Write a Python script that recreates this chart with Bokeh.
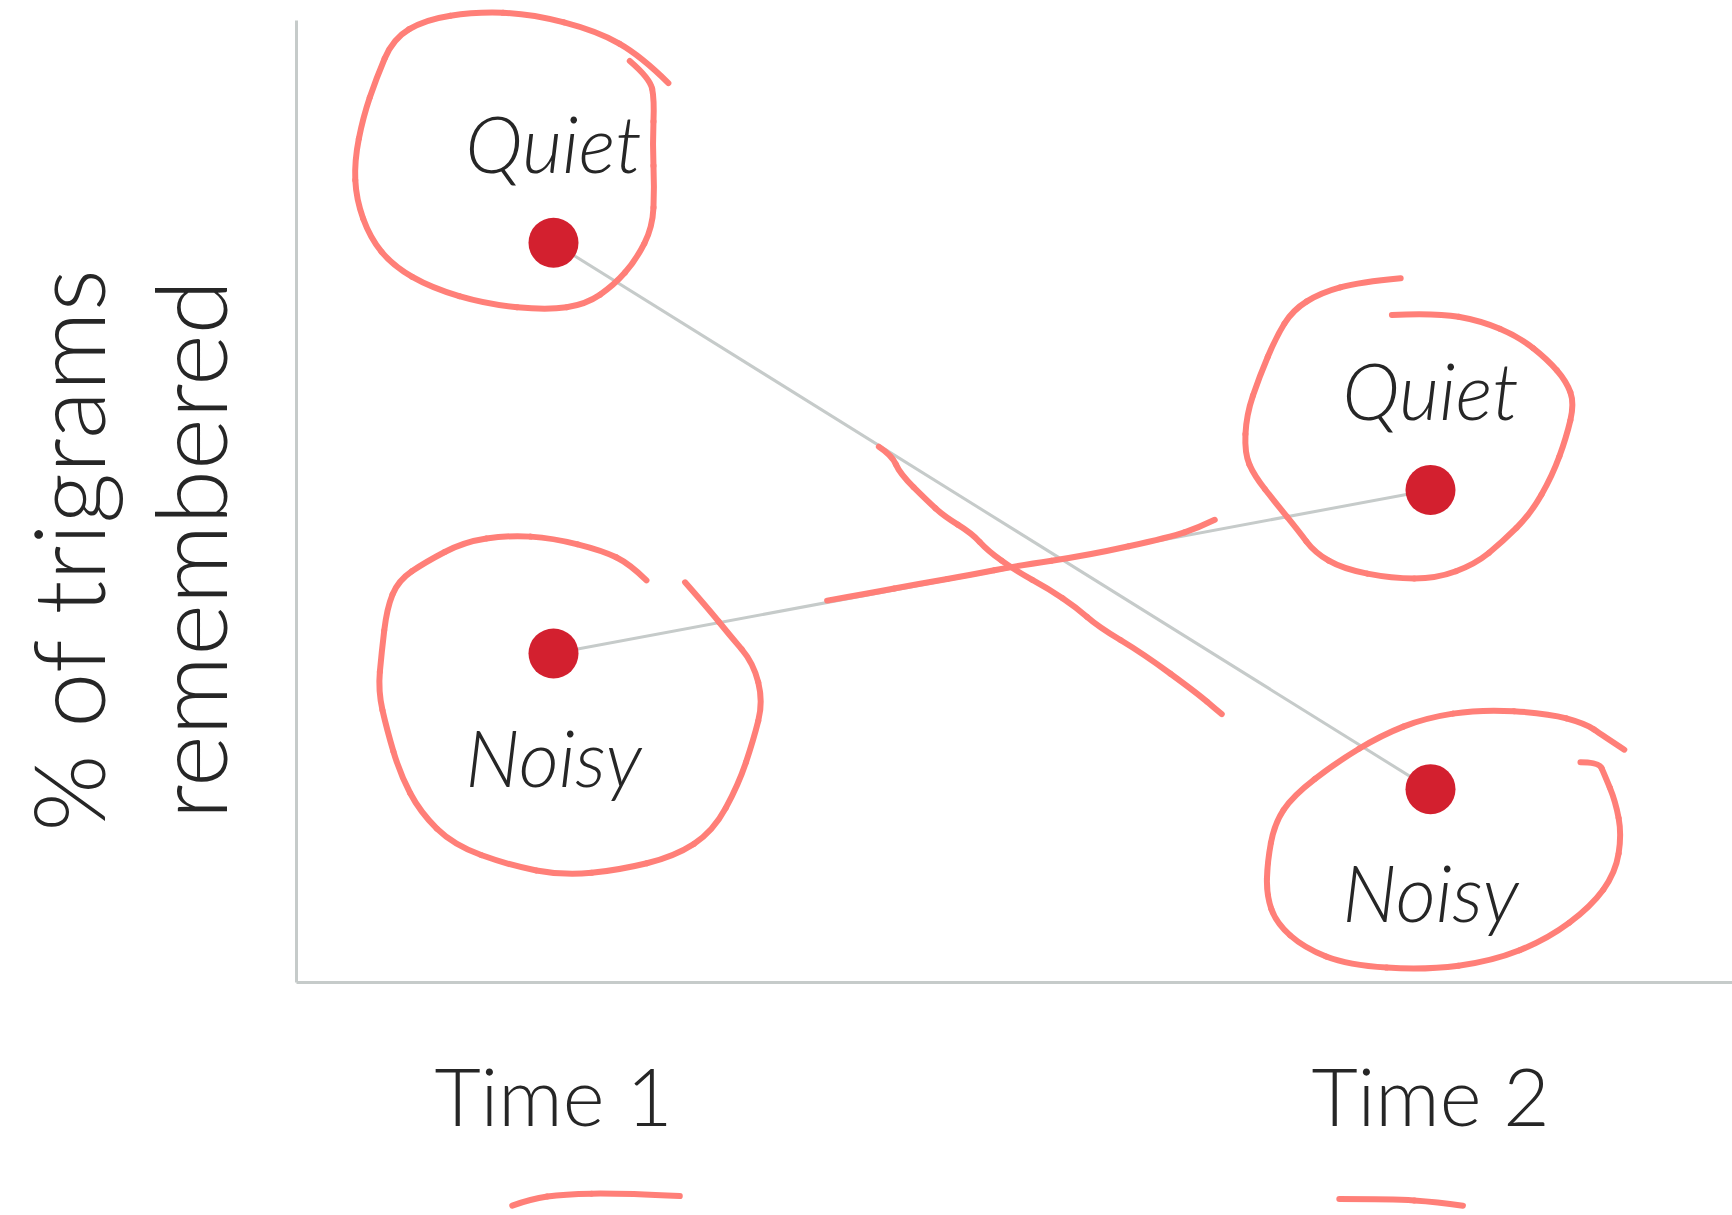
import math
from bokeh.plotting import figure
from bokeh.models import Range1d, FixedTicker
from bokeh.embed import file_html
from bokeh.resources import INLINE
from bokeh.core.properties import value

# ---------------- data ----------------
times = ["Time 1", "Time 2"]
time_pos = [1, 2]
quiet = [76.9, 51.2]
noisy = [34.2, 20.1]
quiet_label = "Quiet"
noisy_label = "Noisy"
y_title_lines = ["% of trigrams", "remembered"]

# connector lines as drawn in the original (crossed pairing)
connector_a = [quiet[0], noisy[1]]
connector_b = [noisy[0], quiet[1]]

# hand-drawn annotation strokes (data units)
circle_quiet_1_x = [1.131, 1.100, 1.050, 0.974, 0.911, 0.854, 0.817, 0.798, 0.783, 0.773, 0.775, 0.791,
                    0.817, 0.861, 0.924, 0.993, 1.037, 1.069, 1.094, 1.113, 1.115, 1.113, 1.115, 1.110, 1.087]
circle_quiet_1_y = [93.5, 96.3, 98.9, 100.7, 100.9, 100.1, 98.1, 94.0, 90.0, 85.4, 81.4, 77.4,
                    74.5, 72.2, 70.5, 69.9, 70.5, 72.5, 75.1, 78.5, 82.6, 87.2, 91.8, 94.0, 95.8]

circle_noisy_1_x = [1.106, 1.087, 1.056, 0.999, 0.949, 0.898, 0.854, 0.823, 0.810, 0.804, 0.800, 0.810,
                    0.825, 0.848, 0.886, 0.949, 1.012, 1.075, 1.138, 1.182, 1.211, 1.228, 1.239, 1.228,
                    1.201, 1.176, 1.150]
circle_noisy_1_y = [41.8, 43.5, 44.9, 46.2, 46.5, 45.8, 43.7, 41.8, 38.9, 34.3, 30.3, 26.3,
                    21.7, 17.7, 14.3, 12.2, 11.1, 11.7, 13.1, 15.7, 20.6, 25.2, 29.2, 33.2,
                    36.1, 38.9, 41.6]

circle_quiet_2_x = [1.966, 1.919, 1.875, 1.843, 1.824, 1.805, 1.790, 1.788, 1.799, 1.824, 1.849, 1.868,
                    1.900, 1.956, 2.007, 2.051, 2.082, 2.114, 2.139, 2.155, 2.164, 2.155, 2.133, 2.101,
                    2.057, 2.007, 1.956]
circle_quiet_2_y = [73.2, 72.8, 71.7, 69.9, 67.1, 63.0, 59.0, 55.0, 52.7, 49.8, 47.0, 44.7,
                    43.0, 42.0, 42.0, 43.5, 45.8, 48.7, 52.7, 56.7, 60.2, 62.5, 64.8, 67.1,
                    68.8, 69.6, 69.4]

circle_noisy_2_x = [2.221, 2.196, 2.177, 2.133, 2.057, 1.994, 1.944, 1.893, 1.843, 1.822, 1.814, 1.813,
                    1.824, 1.856, 1.906, 1.994, 2.070, 2.133, 2.183, 2.211, 2.218, 2.211, 2.198, 2.192,
                    2.171]
circle_noisy_2_y = [24.2, 25.7, 26.9, 28.0, 28.4, 27.5, 25.7, 22.9, 19.4, 16.5, 12.5, 9.1,
                    6.2, 3.6, 1.8, 1.3, 2.2, 4.5, 7.9, 11.4, 15.4, 18.8, 21.7, 22.9,
                    22.9]

strike_a_x = [1.371, 1.386, 1.395, 1.426, 1.445, 1.477, 1.495, 1.527, 1.565, 1.596, 1.621, 1.672,
              1.735, 1.755, 1.762]
strike_a_y = [55.7, 54.8, 52.9, 50.1, 48.5, 46.7, 44.9, 42.8, 40.9, 39.0, 37.0, 34.2,
              30.0, 28.4, 27.9]

strike_b_x = [1.312, 1.357, 1.420, 1.478, 1.527, 1.609, 1.703, 1.736, 1.754]
strike_b_y = [39.7, 40.4, 41.5, 42.4, 43.3, 44.4, 46.3, 47.3, 48.1]

underline_1_x = [0.953, 0.974, 1.012, 1.075, 1.144]
underline_1_y = [-23.2, -22.5, -22.0, -21.9, -22.2]

underline_2_x = [1.896, 1.956, 2.007, 2.037]
underline_2_y = [-22.5, -22.5, -22.8, -23.2]

strokes = [
    (strike_a_x, strike_a_y), (strike_b_x, strike_b_y),
    (circle_quiet_1_x, circle_quiet_1_y), (circle_noisy_1_x, circle_noisy_1_y),
    (circle_quiet_2_x, circle_quiet_2_y), (circle_noisy_2_x, circle_noisy_2_y),
    (underline_1_x, underline_1_y), (underline_2_x, underline_2_y),
]

# ---------------- styles ----------------
FONT = "Lato Light"
TEXT = "#262626"
GREY = "#c6cbca"
DOT = "#d3202f"
PEN = "#ff7f78"

X0, X1 = 0.36944, 2.34436
Y0, Y1 = -24.22, 102.08
AXIS_X = 0.70696

p = figure(width=1732, height=1215,
           x_range=Range1d(X0, X1), y_range=Range1d(Y0, Y1),
           output_backend="svg", toolbar_location=None,
           min_border_left=0, min_border_right=0, min_border_top=0, min_border_bottom=0,
           outline_line_color=None, background_fill_color="white", border_fill_color="white")
p.xgrid.visible = False
p.ygrid.visible = False

# x axis drawn at y = 0, y axis drawn at the left edge of the data area
xa = p.xaxis[0]
xa.fixed_location = 0
xa.bounds = (AXIS_X, X1)
xa.ticker = FixedTicker(ticks=time_pos)
xa.major_label_overrides = {t: lab for t, lab in zip(time_pos, times)}
xa.axis_line_color = GREY
xa.axis_line_width = 3
xa.major_tick_line_color = None
xa.minor_tick_line_color = None
xa.major_label_text_font = FONT
xa.major_label_text_font_size = "80px"
xa.major_label_text_color = TEXT
xa.major_label_standoff = 58

ya = p.yaxis[0]
ya.fixed_location = AXIS_X
ya.bounds = (0, 100)
ya.ticker = FixedTicker(ticks=[])
ya.axis_line_color = GREY
ya.axis_line_width = 3
ya.major_tick_line_color = None
ya.minor_tick_line_color = None
ya.major_label_text_font_size = "0px"

# connectors
p.line(time_pos, connector_a, line_color=GREY, line_width=3)
p.line(time_pos, connector_b, line_color=GREY, line_width=3)

# points
p.scatter(time_pos, quiet, marker="circle", size=50, fill_color=DOT, line_color=None)
p.scatter(time_pos, noisy, marker="circle", size=50, fill_color=DOT, line_color=None)

# point labels
p.text(time_pos, quiet, text=[quiet_label] * len(time_pos), text_font=value(FONT),
       text_font_style="italic", text_font_size="78px", text_color=TEXT,
       text_align="center", text_baseline="alphabetic", y_offset=-100)
p.text(time_pos, noisy, text=[noisy_label] * len(time_pos), text_font=value(FONT),
       text_font_style="italic", text_font_size="78px", text_color=TEXT,
       text_align="center", text_baseline="alphabetic", y_offset=103)

# hand-drawn marks: each stroke drawn as a chain of quadratic curves through its points
sx0, sy0, sx1, sy1, scx, scy = [], [], [], [], [], []
for xs, ys in strokes:
    n = len(xs)
    for i in range(1, n - 1):
        sx0.append(xs[0] if i == 1 else (xs[i - 1] + xs[i]) / 2)
        sy0.append(ys[0] if i == 1 else (ys[i - 1] + ys[i]) / 2)
        sx1.append(xs[-1] if i == n - 2 else (xs[i] + xs[i + 1]) / 2)
        sy1.append(ys[-1] if i == n - 2 else (ys[i] + ys[i + 1]) / 2)
        scx.append(xs[i])
        scy.append(ys[i])
p.quadratic(x0=sx0, y0=sy0, x1=sx1, y1=sy1, cx=scx, cy=scy,
            line_color=PEN, line_width=6, line_cap="round")

# y axis title (two lines, rotated)
p.text(x=[0.4447, 0.5838], y=[45, 45], text=y_title_lines, angle=math.pi / 2,
       text_align="center", text_baseline="alphabetic",
       text_font=value(FONT), text_font_size="99px", text_color=TEXT)

open("out.html", "w").write(file_html(p, INLINE))
